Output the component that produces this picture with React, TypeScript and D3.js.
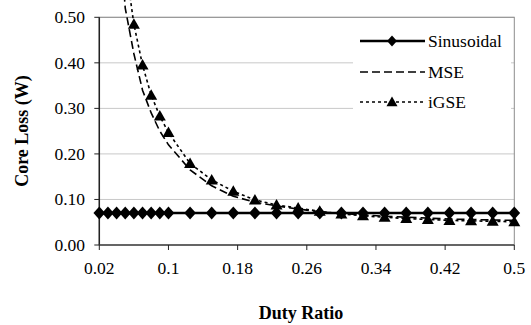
import React from "react";
import * as d3 from "d3";

const duty = [0.02, 0.03, 0.04, 0.05, 0.06, 0.07, 0.08, 0.09, 0.1, 0.125, 0.15, 0.175, 0.2, 0.225, 0.25, 0.275, 0.3, 0.325, 0.35, 0.375, 0.4, 0.425, 0.45, 0.475, 0.5];
const sinusoidal = [0.07, 0.07, 0.07, 0.07, 0.07, 0.07, 0.07, 0.07, 0.07, 0.07, 0.07, 0.07, 0.07, 0.07, 0.07, 0.07, 0.07, 0.07, 0.07, 0.07, 0.07, 0.07, 0.07, 0.07, 0.07];
const mse = [2.0, 1.15, 0.78, 0.52, 0.42, 0.34, 0.29, 0.25, 0.22, 0.165, 0.13, 0.107, 0.094, 0.086, 0.079, 0.073, 0.069, 0.066, 0.063, 0.061, 0.059, 0.057, 0.056, 0.055, 0.054];
const igse = [2.07, 1.21, 0.83, 0.62, 0.485, 0.395, 0.329, 0.283, 0.247, 0.179, 0.143, 0.118, 0.099, 0.088, 0.081, 0.074, 0.068, 0.064, 0.061, 0.058, 0.056, 0.054, 0.053, 0.052, 0.051];
const xTicks = [0.02, 0.1, 0.18, 0.26, 0.34, 0.42, 0.5];
const yTicks = [0, 0.1, 0.2, 0.3, 0.4, 0.5];
const seriesNames = ["Sinusoidal", "MSE", "iGSE"];

const W = 531, H = 325;
const tf: React.CSSProperties = { fontFamily: '"Liberation Serif"' };

export default function App() {
  const x = d3.scaleLinear().domain([0.02, 0.5]).range([99.3, 514.3]);
  const y = d3.scaleLinear().domain([0, 0.5]).range([245, 17.3]);
  const line = d3.line<number>().x((_, i) => x(duty[i])).y((v) => y(v));
  const diamond = (cx: number, cy: number, r = 6.5) => `M${cx},${cy - r}L${cx + r * 0.9},${cy}L${cx},${cy + r}L${cx - r * 0.9},${cy}Z`;
  const tri = (cx: number, cy: number, s = 6) => `M${cx},${cy - s}L${cx + s},${cy + s * 0.75}L${cx - s},${cy + s * 0.75}Z`;
  const [x0, x1] = x.range();
  const [yb, yt] = y.range();
  const legY = [41, 72, 102];
  return (
    <svg width={W} height={H} style={{ position: "absolute", left: 0, top: 0, background: "#fff" }}>
      <rect x={0} y={0} width={W} height={H} fill="#fff" />
      {yTicks.filter((t) => t > 0).map((t) => (
        <line key={t} x1={x0} x2={x1} y1={y(t)} y2={y(t)} stroke="#c8c8c8" strokeWidth={1} />
      ))}
      <rect x={x0} y={yt} width={x1 - x0} height={yb - yt} fill="none" stroke="#8c8c8c" strokeWidth={1} />
      <line x1={x0} x2={x0} y1={yt} y2={yb} stroke="#222" strokeWidth={1.5} />
      <line x1={x0} x2={x1} y1={yb} y2={yb} stroke="#444" strokeWidth={1.5} />
      {yTicks.map((t) => (
        <g key={t}>
          <line x1={x0 - 5} x2={x0} y1={y(t)} y2={y(t)} stroke="#222" strokeWidth={1} />
          <text x={85} y={y(t) + 6} textAnchor="end" fontSize={17.5} style={tf}>{t.toFixed(2)}</text>
        </g>
      ))}
      {xTicks.map((t) => (
        <g key={t}>
          <line x1={x(t)} x2={x(t)} y1={yb} y2={yb + 5} stroke="#222" strokeWidth={1} />
          <text x={x(t)} y={274} textAnchor="middle" fontSize={17.5} style={tf}>{String(t)}</text>
        </g>
      ))}
      <text x={301} y={319} textAnchor="middle" fontSize={18} fontWeight="bold" style={tf}>Duty Ratio</text>
      <text transform={`translate(28,131) rotate(-90)`} textAnchor="middle" fontSize={18} fontWeight="bold" style={tf}>Core Loss (W)</text>

      <path d={line(mse) || ""} fill="none" stroke="#000" strokeWidth={1.6} strokeDasharray="8,4" />
      <path d={line(igse) || ""} fill="none" stroke="#000" strokeWidth={1.6} strokeDasharray="3,3" />
      {igse.map((v, i) => (v <= 0.5 ? <path key={i} d={tri(x(duty[i]), y(v))} fill="#000" /> : null))}
      <path d={line(sinusoidal) || ""} fill="none" stroke="#000" strokeWidth={2.5} />
      {sinusoidal.map((v, i) => <path key={i} d={diamond(x(duty[i]), y(v))} fill="#000" />)}

      <rect x={353} y={22} width={158} height={95} fill="#fff" />
      {seriesNames.map((n, i) => (
        <g key={n}>
          <line x1={360} x2={425} y1={legY[i]} y2={legY[i]} stroke="#000"
            strokeWidth={i === 0 ? 2.5 : 1.6} strokeDasharray={i === 1 ? "8,4" : i === 2 ? "3,3" : undefined} />
          {i === 0 && <path d={diamond(392, legY[i], 5.5)} fill="#000" />}
          {i === 2 && <path d={tri(392, legY[i], 5.5)} fill="#000" />}
          <text x={428} y={legY[i] + 6} fontSize={17.5} style={tf}>{n}</text>
        </g>
      ))}
    </svg>
  );
}
